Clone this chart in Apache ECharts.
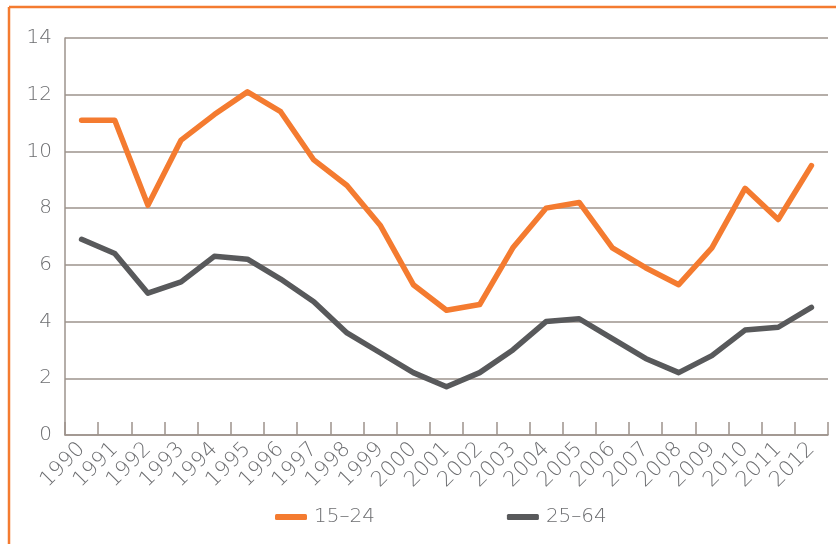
<!DOCTYPE html>
<html>
<head>
<meta charset="utf-8">
<script src="https://cdn.jsdelivr.net/npm/echarts@6/dist/echarts.min.js"></script>
<style>
  html, body { margin: 0; padding: 0; background: #fff; }
  #chart { width: 836px; height: 544px; }
</style>
</head>
<body>
<div id="chart"></div>
<script>
var years = ['1990', '1991', '1992', '1993', '1994', '1995', '1996', '1997', '1998', '1999', '2000',
  '2001', '2002', '2003', '2004', '2005', '2006', '2007', '2008', '2009', '2010', '2011', '2012']
var youth = [11.1, 11.1, 8.1, 10.4, 11.3, 12.1, 11.4, 9.7, 8.8, 7.4, 5.3,
  4.4, 4.6, 6.6, 8.0, 8.2, 6.6, 5.9, 5.3, 6.6, 8.7, 7.6, 9.5]
var adults = [6.9, 6.4, 5.0, 5.4, 6.3, 6.2, 5.5, 4.7, 3.6, 2.9, 2.2,
  1.7, 2.2, 3.0, 4.0, 4.1, 3.4, 2.7, 2.2, 2.8, 3.7, 3.8, 4.5]
var seriesNames = ['15–24', '25–64']

var ORANGE = '#f47b30'
var DARK = '#58595b'
var AXIS = '#9d938c'
var TEXT = '#6d6e71'
var FONT = '"DejaVu Sans", "Liberation Sans", sans-serif'

var myChart = echarts.init(document.getElementById('chart'))

var option = {
  animation: false,
  textStyle: { fontFamily: FONT, fontWeight: 200 },
  graphic: [
    { type: 'line', shape: { x1: 9, y1: 7, x2: 836, y2: 7 }, style: { stroke: ORANGE, lineWidth: 2.5 } },
    { type: 'line', shape: { x1: 9, y1: 7, x2: 9, y2: 544 }, style: { stroke: ORANGE, lineWidth: 2.5 } }
  ],
  legend: {
    data: seriesNames,
    left: 270,
    top: 502,
    itemWidth: 32,
    itemHeight: 6,
    itemGap: 132,
    icon: 'roundRect',
    textStyle: { color: TEXT, fontSize: 20, fontWeight: 200, fontFamily: FONT, padding: [0, 0, 0, 2] }
  },
  grid: {
    left: 65,
    right: 8,
    top: 38,
    bottom: 109
  },
  xAxis: {
    type: 'category',
    data: years,
    boundaryGap: true,
    axisLine: { show: true, lineStyle: { color: AXIS, width: 1.5 } },
    axisTick: { show: true, inside: true, length: 13, lineStyle: { color: AXIS, width: 1.5 } },
    axisLabel: { rotate: 45, color: TEXT, fontSize: 21, fontWeight: 200, margin: 11, interval: 0, fontFamily: FONT }
  },
  yAxis: {
    type: 'value',
    min: 0,
    max: 14,
    interval: 2,
    axisLine: { show: true, lineStyle: { color: AXIS, width: 1.5 } },
    axisTick: { show: false },
    axisLabel: { color: TEXT, fontSize: 20, fontWeight: 200, margin: 13, fontFamily: FONT },
    splitLine: { lineStyle: { color: AXIS, width: 1.5 } }
  },
  series: [
    {
      name: seriesNames[0],
      type: 'line',
      data: youth,
      symbol: 'none',
      itemStyle: { color: ORANGE },
      lineStyle: { color: ORANGE, width: 5.5, cap: 'round', join: 'round' }
    },
    {
      name: seriesNames[1],
      type: 'line',
      data: adults,
      symbol: 'none',
      itemStyle: { color: DARK },
      lineStyle: { color: DARK, width: 5.5, cap: 'round', join: 'round' }
    }
  ]
}

option && myChart.setOption(option)
</script>
</body>
</html>
